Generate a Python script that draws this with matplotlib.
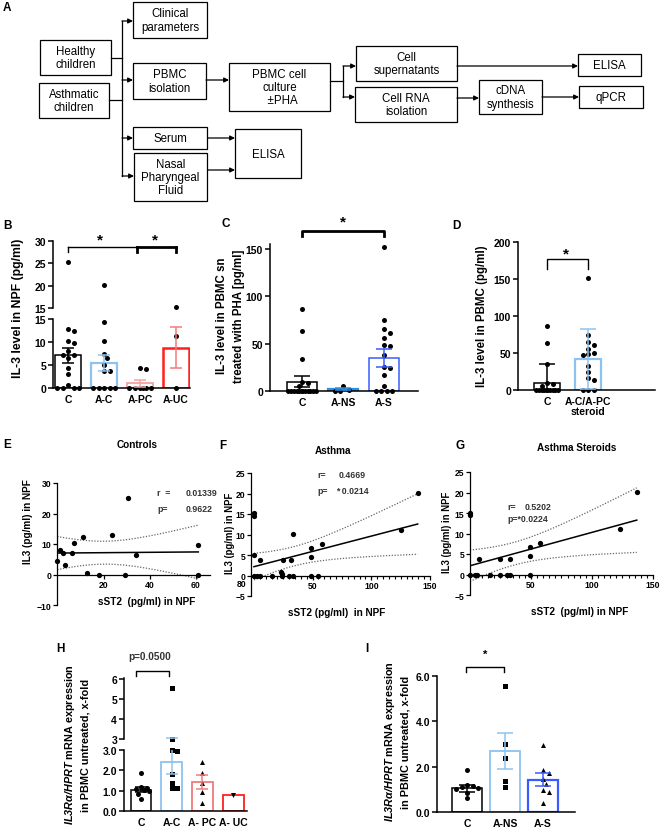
import numpy as np
import matplotlib
matplotlib.use('Agg')
import matplotlib.pyplot as plt
from matplotlib.patches import Rectangle
from matplotlib.ticker import MultipleLocator

plt.rcParams['font.family'] = ['Liberation Sans', 'DejaVu Sans']
plt.rcParams['font.weight'] = 'bold'
plt.rcParams['mathtext.fontset'] = 'custom'
plt.rcParams['mathtext.rm'] = 'Liberation Sans:bold'
plt.rcParams['mathtext.it'] = 'Liberation Sans:italic:bold'
plt.rcParams['mathtext.bf'] = 'Liberation Sans:bold'
try:
    plt.rcParams['mathtext.bfit'] = 'Liberation Sans:italic:bold'
except KeyError:
    pass

# ---------------- data ----------------
flow_labels = ["Healthy\nchildren", "Asthmatic\nchildren", "Clinical\nparameters", "PBMC\nisolation",
               "Serum", "Nasal\nPharyngeal\nFluid", "ELISA", "PBMC cell\nculture\n  \u00b1PHA",
               "Cell\nsupernatants", "Cell RNA\nisolation", "cDNA\nsynthesis", "ELISA", "qPCR"]

# B: IL-3 in NPF
B_cats = ["C", "A-C", "A-PC", "A-UC"]
B_C = [25.2, 12.8, 12.4, 10.2, 9.8, 8.0, 7.2, 7.1, 6.5, 4.4, 3.1, 0.6, 0, 0, 0, 0]
B_AC = [20.2, 14.4, 10.3, 7.5, 6.5, 5.0, 3.8, 3.8, 0, 0, 0, 0, 0]
B_APC = [4.3, 4.1, 0, 0, 0, 0, 0, 0]
B_AUC = [15.3, 11.2, 0]
B_mean = [7.1, 5.5, 1.0, 8.8]
B_err = [1.7, 1.7, 0.8, 4.5]

# C: IL-3 in PBMC sn treated with PHA
C_cats = ["C", "A-NS", "A-S"]
C_C = [86, 63, 34, 10, 8, 5, 0, 0, 0, 0, 0, 0, 0, 0, 0, 0, 0, 0]
C_ANS = [5, 1, 0, 0]
C_AS = [152, 75, 65, 61, 56, 48, 47, 38, 25, 24, 17, 5, 0, 0, 0, 0]
C_mean = [10, 2, 35]
C_err = [5.5, 0.8, 9.5]

# D: IL-3 in PBMC
D_cats = ["C", "A-C/A-PC\nsteroid"]
D_C = [86, 63, 35, 10, 8, 5, 0, 0, 0, 0, 0, 0, 0, 0, 0, 0]
D_S = [152, 75, 65, 61, 55, 50, 48, 47, 33, 25, 16, 14, 0, 0, 0]
D_mean = [10, 42]
D_err = [25, 41]

# E/F/G: correlations sST2 vs IL3 in NPF
E_x = [30.4, 11, 23.3, 7, 61, 0.9, 2.3, 6.2, 33.8, -0.3, 3.2, 12.7, 17.7, 29.3, 60.7]
E_y = [25.2, 12.4, 12.8, 10.2, 9.8, 8.0, 7.1, 7.2, 6.5, 4.4, 3.1, 0.6, 0, 0, 0]
F_x = [0, 0, 0, 5.4, 0, 3, 5.4, 15, 23, 23.5, 24, 24.5, 30, 32, 33, 33, 49, 49, 49, 55, 57.6, 125, 139.5]
F_y = [15.2, 14.5, 5.0, 3.8, 0, 0, 0, 0, 0.8, 0.3, 0, 3.7, 0, 3.7, 0, 10.2, 6.6, 4.4, 0, 0, 7.7, 11.2, 20.2]
G_x = [0, 0, 7.6, 0, 4, 6, 16, 25, 25, 30, 33, 33, 49, 49, 49, 57, 123, 136.7]
G_y = [15, 14.5, 3.8, 0, 0, 0, 0, 0, 3.7, 0, 3.7, 0, 6.6, 4.4, 0, 7.7, 11.2, 20.2]
E_stats = ("0.01339", "0.9622")
F_stats = ("0.4669", "* 0.0214")
G_stats = ("0.5202", "*0.0224")

# H / I: IL3Ra/HPRT mRNA
H_cats = ["C", "A-C", "A- PC", "A- UC"]
H_C = [1.85, 1.2, 1.15, 1.1, 1.05, 1.0, 0.85, 0.6]
H_AC = [5.55, 3.0, 2.95, 1.8, 1.4, 1.15, 1.15]
H_APC = [2.4, 1.85, 1.4, 0.95, 0.4]
H_AUC = [0.8]
H_mean = [1.05, 2.42, 1.42, 0.8]
H_err = [0.13, 0.62, 0.36, 0.0]
I_cats = ["C", "A-NS", "A-S"]
I_C = [1.85, 1.2, 1.15, 1.1, 1.05, 1.0, 0.85, 0.6]
I_ANS = [5.55, 3.0, 2.4, 1.35, 1.1]
I_AS = [2.95, 1.85, 1.7, 1.45, 1.25, 0.95, 0.9, 0.4]
I_mean = [1.05, 2.68, 1.43]
I_err = [0.15, 0.8, 0.28]

# ---------------- colours ----------------
BLACK = "#000000"
LBLUE = "#8ec3ef"
MBLUE = "#2f8fe0"
DBLUE = "#3a5cff"
PINK = "#f5a3a3"
SALMON = "#f27a7a"
RED = "#ff1f1f"

W, H = 661, 829
fig = plt.figure(figsize=(W / 100, H / 100), dpi=100)


def add_ax(x0, y0, x1, y1):
    ax = fig.add_axes([x0 / W, 1 - y1 / H, (x1 - x0) / W, (y1 - y0) / H])
    ax.patch.set_alpha(0)
    return ax


def swarm(vals, xppu, yppu, d, maxw):
    vals = np.asarray(vals, float)
    xs = np.zeros(len(vals))
    placed = []
    step = d * 0.55
    cands = [0.0]
    k = 1
    while k * step <= maxw:
        cands += [k * step, -k * step]
        k += 1
    for i in np.argsort(-vals):
        y = vals[i] * yppu
        best, bestd = None, -1
        for c in cands:
            md = min([np.hypot(c - px, y - py) for px, py in placed] + [1e9])
            if md >= d:
                best = c
                break
            if md > bestd:
                bestd, best = md, c
        placed.append((best, y))
        xs[i] = best / xppu
    return xs


def style_ax(ax, lw=1.1, size=7.5):
    for s in ['top', 'right']:
        ax.spines[s].set_visible(False)
    for s in ['left', 'bottom']:
        ax.spines[s].set_linewidth(lw)
    ax.tick_params(axis='y', labelsize=size, width=lw, length=3.5, pad=1.5)
    ax.tick_params(axis='x', labelsize=size, length=0, pad=4)


def bar_panel(axes, cats, groups, means, errs, colors, markers, xppu, yppu, width, capsize,
              lws=None, ecolors=None, ms=3.6, maxw=12):
    n = len(cats)
    pos = np.arange(n)
    if lws is None:
        lws = [1.1] * n
    if ecolors is None:
        ecolors = colors
    for ax in axes:
        lo, hi = ax.get_ylim()
        ax.bar(pos, means, width, facecolor='none', edgecolor=colors, linewidth=lws, zorder=1)
        for i in range(n):
            if errs[i] > 0:
                ax.errorbar(pos[i], means[i], yerr=errs[i], fmt='none', ecolor=ecolors[i],
                            elinewidth=1.1, capsize=capsize, capthick=1.1, zorder=4)
            v = np.asarray(groups[i], float)
            xs = swarm(v, xppu, yppu, ms * 100 / 72, maxw) + pos[i]
            m = (v >= lo - 1e-9) & (v <= hi + 1e-9)
            ax.scatter(xs[m], v[m], s=ms ** 2, c='k', marker=markers[i], linewidths=0,
                       clip_on=False, zorder=3)
        ax.set_xticks(pos)


# ---------------- overlay for panel A and annotations ----------------
ov = fig.add_axes([0, 0, 1, 1], zorder=10)
ov.set_xlim(0, W)
ov.set_ylim(H, 0)
ov.axis('off')
ov.patch.set_alpha(0)

boxes = [(40, 41, 111, 76), (39, 84, 109, 119), (133, 3, 207, 39), (133, 64, 206, 100),
         (133, 128, 207, 150), (134, 154, 207, 202), (235, 130, 301, 179), (229, 64, 330, 112),
         (356, 47, 457, 82), (355, 88, 457, 123), (479, 81, 542, 115), (578, 55, 641, 77),
         (579, 87, 643, 109)]
for lab, (x0, y0, x1, y1) in zip(flow_labels, boxes):
    ov.add_patch(Rectangle((x0, y0), x1 - x0, y1 - y0, fill=False, lw=0.9, ec='k'))
    ov.text((x0 + x1) / 2, (y0 + y1) / 2, lab, ha='center', va='center', fontsize=8.3,
            fontweight='normal', linespacing=1.15)

for (x0, y0, x1, y1) in [(111, 59, 122, 59), (109, 101, 122, 101), (122, 22, 122, 177),
                         (330, 82, 343, 82), (343, 67, 343, 98)]:
    ov.plot([x0, x1], [y0, y1], color='k', lw=0.9)
for (x0, y0, x1, y1) in [(122, 22, 133, 22), (122, 81, 133, 81), (122, 139, 133, 139),
                         (122, 177, 134, 177), (206, 81, 229, 81), (208, 139, 235, 139),
                         (208, 171, 235, 171), (343, 67, 356, 67), (343, 98, 355, 98),
                         (457, 67, 578, 67), (457, 99, 479, 99), (542, 98, 579, 98)]:
    ov.annotate('', xy=(x1, y1), xytext=(x0, y0),
                arrowprops=dict(arrowstyle='-|>', mutation_scale=7, lw=0.9, color='k',
                                shrinkA=0, shrinkB=0))

for lab, x, y in [("A", 3, 8), ("B", 3, 226), ("C", 221, 224), ("D", 452, 226), ("E", 3, 445),
                  ("F", 219, 446), ("G", 455, 446), ("H", 56, 649), ("I", 365, 649)]:
    ov.text(x, y, lab, fontsize=8.5, fontweight='bold', ha='left', va='center')

# ---------------- Panel B (broken axis) ----------------
bxl = -15 / 36
bxr = 122 / 36
axBl = add_ax(53, 320, 190, 389)
axBu = add_ax(53, 242, 190, 309)
axBl.set_ylim(0, 15)
axBu.set_ylim(15, 30)
for ax in (axBl, axBu):
    ax.set_xlim(bxl, bxr)
    style_ax(ax)
axBl.set_yticks([0, 5, 10, 15])
axBu.set_yticks([15, 20, 25, 30])
axBu.spines['bottom'].set_visible(False)
axBu.tick_params(axis='x', labelbottom=False)
bar_panel([axBl, axBu], B_cats, [B_C, B_AC, B_APC, B_AUC], B_mean, B_err,
          [BLACK, LBLUE, PINK, RED], ['o'] * 4, 36, 4.55, 0.72, 4.5,
          lws=[1.1, 1.6, 1.3, 1.8], ecolors=[BLACK, LBLUE, PINK, SALMON])
axBl.set_xticklabels(B_cats)
ov.text(18, 308, "IL-3 level in NPF (pg/ml)", rotation=90, ha='center', va='center', fontsize=8.8)
ov.plot([68, 137], [248, 248], color='k', lw=1.0)
ov.plot([68, 68], [248, 253], color='k', lw=1.0)
ov.plot([137, 176], [248, 248], color='k', lw=2.0)
ov.plot([137, 137], [248, 253], color='k', lw=2.0)
ov.plot([176, 176], [248, 253], color='k', lw=2.0)
ov.text(100, 240, "*", ha='center', va='center', fontsize=11)
ov.text(155, 240, "*", ha='center', va='center', fontsize=11)

# ---------------- Panel C ----------------
axC = add_ax(270, 245, 418, 392)
axC.set_xlim(-32 / 41, 116 / 41)
axC.set_ylim(0, 155)
style_ax(axC)
axC.set_yticks([0, 50, 100, 150])
bar_panel([axC], C_cats, [C_C, C_ANS, C_AS], C_mean, C_err, [BLACK, MBLUE, DBLUE], ['o'] * 3,
          41, 147 / 155, 0.73, 5.5, lws=[1.1, 1.6, 1.1], maxw=14)
axC.set_xticklabels(C_cats)
ov.text(222, 316, "IL-3 level in PBMC sn", rotation=90, ha='center', va='center', fontsize=8.3)
ov.text(239, 316, "treated with PHA [pg/ml]", rotation=90, ha='center', va='center', fontsize=8.3)
ov.plot([302, 302, 384, 384], [237, 232, 232, 237], color='k', lw=2.0)
ov.text(343, 222, "*", ha='center', va='center', fontsize=11)

# ---------------- Panel D ----------------
axD = add_ax(518, 243, 655, 391)
axD.set_xlim(-29 / 41, 108 / 41)
axD.set_ylim(0, 200)
style_ax(axD)
axD.set_yticks([0, 50, 100, 150, 200])
bar_panel([axD], D_cats, [D_C, D_S], D_mean, D_err, [BLACK, LBLUE], ['o'] * 2,
          41, 148 / 200, 0.63, 5.5, lws=[1.1, 1.6], maxw=13)
axD.set_xticklabels(D_cats, linespacing=1.0)
ov.text(482, 316, "IL-3 level in PBMC (pg/ml)", rotation=90, ha='center', va='center', fontsize=8.3)
ov.plot([547, 547, 588, 588], [270, 260, 260, 270], color='k', lw=1.0)
ov.text(566, 254, "*", ha='center', va='center', fontsize=11)


# ---------------- Panels E, F, G ----------------
def reg_panel(ax, x, y):
    x = np.asarray(x, float)
    y = np.asarray(y, float)
    b, a = np.polyfit(x, y, 1)
    xx = np.linspace(x.min(), x.max(), 200)
    yy = a + b * xx
    n = len(x)
    s = np.sqrt(np.sum((y - (a + b * x)) ** 2) / (n - 2))
    se = s * np.sqrt(1 / n + (xx - x.mean()) ** 2 / np.sum((x - x.mean()) ** 2))
    t = 2.1
    ax.plot(xx, yy, color='k', lw=1.1, zorder=2)
    ax.plot(xx, yy + t * se, color='#666666', lw=0.9, ls=(0, (1, 1.3)), zorder=2)
    ax.plot(xx, yy - t * se, color='#666666', lw=0.9, ls=(0, (1, 1.3)), zorder=2)
    ax.scatter(x, y, s=3.8 ** 2, c='k', linewidths=0, zorder=3, clip_on=False)


def style_sc(ax, lw=0.9, size=6.2):
    for s in ['top', 'right']:
        ax.spines[s].set_visible(False)
    for s in ['left', 'bottom']:
        ax.spines[s].set_linewidth(lw)
    ax.spines['bottom'].set_position(('data', 0))
    ax.tick_params(labelsize=size, width=lw, length=3, pad=1.2)
    ax.tick_params(axis='x', which='minor', width=0.8, length=2)


axE = add_ax(57, 484, 242, 606)
axE.set_xlim(-0.43, 80)
axE.set_ylim(-10, 30)
style_sc(axE)
axE.spines['bottom'].set_bounds(-0.43, 66)
axE.set_xticks([20, 40, 60])
axE.set_yticks([-10, 0, 10, 20, 30])
reg_panel(axE, E_x, E_y)
axE.text(80, -1.6, "80", ha='center', va='top', fontsize=6.2)
ov.text(137, 445, "Controls", ha='center', va='center', fontsize=7.2)
ov.text(28, 522, "IL3 (pg/ml) in NPF", rotation=90, ha='center', va='center', fontsize=7.2)
ov.text(147, 602, "sST2  (pg/ml) in NPF", ha='center', va='center', fontsize=7.2)
ov.text(157, 493, "r  =", ha='left', va='center', fontsize=6.3, color='#333333')
ov.text(217, 493, E_stats[0], ha='right', va='center', fontsize=6.3, color='#333333')
ov.text(157, 509, "p=", ha='left', va='center', fontsize=6.3, color='#333333')
ov.text(213, 509, E_stats[1], ha='right', va='center', fontsize=6.3, color='#333333')

axF = add_ax(251, 474, 430, 597)
axF.set_xlim(-2.5, 150)
axF.set_ylim(-5, 25)
style_sc(axF)
axF.spines['bottom'].set_bounds(-2.5, 150)
axF.set_xticks([50, 100, 150])
axF.xaxis.set_minor_locator(MultipleLocator(5))
axF.set_yticks([-5, 0, 5, 10, 15, 20, 25])
reg_panel(axF, F_x, F_y)
ov.text(333, 451, "Asthma", ha='center', va='center', fontsize=7.2)
ov.text(230, 533, "IL3 (pg/ml) in NPF", rotation=90, ha='center', va='center', fontsize=6.9)
ov.text(337, 613, "sST2 (pg/ml)  in NPF", ha='center', va='center', fontsize=7.2)
ov.text(317, 475, "r=", ha='left', va='center', fontsize=6.3, color='#333333')
ov.text(339, 475, F_stats[0], ha='left', va='center', fontsize=6.3, color='#333333')
ov.text(317, 492, "p=", ha='left', va='center', fontsize=6.3, color='#333333')
ov.text(336, 492, F_stats[1], ha='left', va='center', fontsize=6.3, color='#333333')

axG = add_ax(470, 473, 653, 596)
axG.set_xlim(0, 150)
axG.set_ylim(-5, 25)
style_sc(axG)
axG.set_xticks([50, 100, 150])
axG.xaxis.set_minor_locator(MultipleLocator(5))
axG.set_yticks([-5, 0, 5, 10, 15, 20, 25])
reg_panel(axG, G_x, G_y)
ov.text(577, 448, "Asthma Steroids", ha='center', va='center', fontsize=7.2)
ov.text(447, 532, "IL3 (pg/ml) in NPF", rotation=90, ha='center', va='center', fontsize=6.9)
ov.text(580, 612, "sST2  (pg/ml) in NPF", ha='center', va='center', fontsize=7.2)
ov.text(507, 507, "r=", ha='left', va='center', fontsize=6.3, color='#333333')
ov.text(525, 507, G_stats[0], ha='left', va='center', fontsize=6.3, color='#333333')
ov.text(507, 519, "p=" + G_stats[1], ha='left', va='center', fontsize=6.3, color='#333333')

# ---------------- Panel H (broken axis) ----------------
hxr = 106 / 30.7
axHl = add_ax(124, 751, 247, 812)
axHu = add_ax(124, 679, 247, 740)
axHl.set_ylim(0, 3)
axHu.set_ylim(3, 6.05)
for ax in (axHl, axHu):
    ax.set_xlim(-17 / 30.7, hxr)
    style_ax(ax)
axHl.set_yticks([0, 1, 2, 3])
axHl.set_yticklabels(["0.0", "1.0", "2.0", "3.0"])
axHu.set_yticks([3, 4, 5, 6])
axHu.spines['bottom'].set_visible(False)
axHu.tick_params(axis='x', labelbottom=False)
bar_panel([axHl, axHu], H_cats, [H_C, H_AC, H_APC, H_AUC], H_mean, H_err,
          [BLACK, LBLUE, SALMON, RED], ['o', 's', '^', 'v'], 30.7, 20.3, 0.68, 4.3,
          lws=[1.1, 1.3, 1.3, 1.3], maxw=9)
axHl.set_xticklabels(H_cats)
ylab = r"$\mathbfit{IL3R\alpha/HPRT}$ mRNA expression"
ov.text(70, 745, ylab, rotation=90, ha='center', va='center', fontsize=7.8)
ov.text(86, 745, "in PBMC untreated, x-fold", rotation=90, ha='center', va='center', fontsize=7.8)
ov.plot([136, 136, 169, 169], [677, 672, 672, 677], color='k', lw=1.0)
ov.text(150, 657, "p=0.0500", ha='center', va='center', fontsize=7.2, color='#333333')

# ---------------- Panel I ----------------
axI = add_ax(437, 677, 575, 813)
axI.set_xlim(-30 / 38, 108 / 38)
axI.set_ylim(0, 6)
style_ax(axI)
axI.set_yticks([0, 2, 4, 6])
axI.set_yticklabels(["0.0", "2.0", "4.0", "6.0"])
bar_panel([axI], I_cats, [I_C, I_ANS, I_AS], I_mean, I_err, [BLACK, LBLUE, DBLUE],
          ['o', 's', '^'], 38, 136 / 6, 0.78, 5.5, lws=[1.1, 1.3, 1.6], maxw=12)
axI.set_xticklabels(I_cats)
ov.text(390, 742, ylab, rotation=90, ha='center', va='center', fontsize=7.8)
ov.text(405, 742, "in PBMC untreated, x-fold", rotation=90, ha='center', va='center', fontsize=7.8)
ov.plot([466, 466, 504, 504], [673, 668, 668, 673], color='k', lw=1.0)
ov.text(485, 655, "*", ha='center', va='center', fontsize=8)

fig.savefig("out.png", dpi=100)
